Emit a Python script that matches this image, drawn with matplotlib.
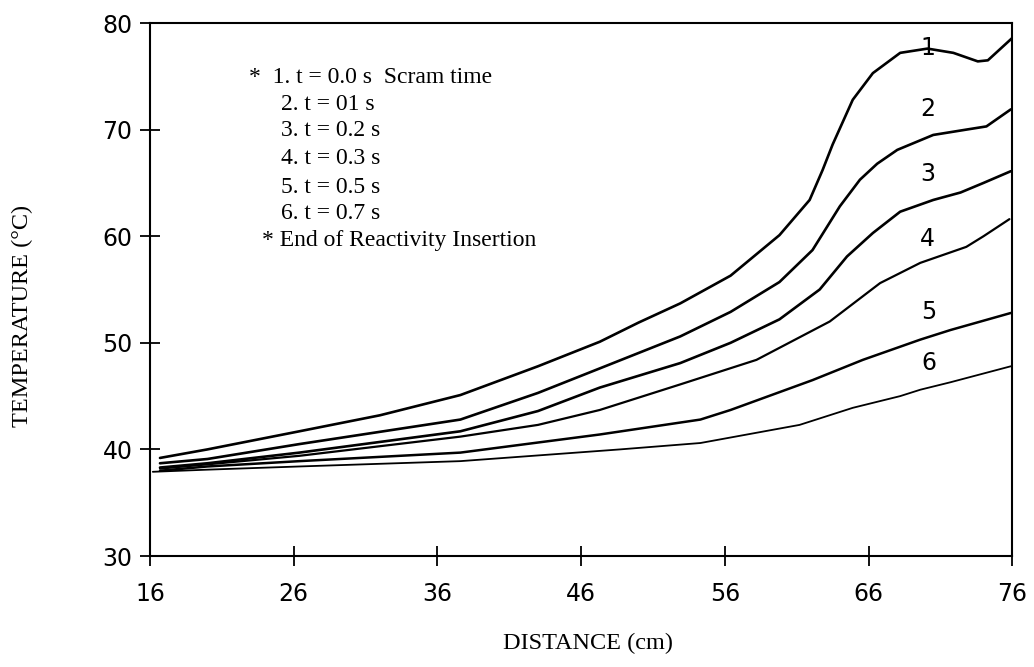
import numpy as np
import matplotlib
matplotlib.use("Agg")
import matplotlib.pyplot as plt

# ---- data (distance cm, temperature C) ----
x1 = [16.7, 20, 26.4, 32, 37.6, 43, 47.3, 50, 52.9, 56.4, 59.8, 61.9, 62.8, 63.5,
      64.9, 66.3, 68.2, 70.1, 71.9, 73.6, 74.3, 76]
t1 = [39.2, 40.0, 41.7, 43.2, 45.1, 47.8, 50.1, 51.9, 53.7, 56.3, 60.1, 63.4, 66.2, 68.6,
      72.8, 75.3, 77.2, 77.6, 77.2, 76.4, 76.5, 78.6]

x2 = [16.7, 20, 26.4, 37.6, 43, 47.3, 52.9, 56.4, 59.8, 62.1, 64.0, 65.4, 66.6, 68.0,
      70.5, 72.8, 74.2, 75.9]
t2 = [38.7, 39.1, 40.5, 42.8, 45.3, 47.6, 50.6, 52.9, 55.7, 58.7, 62.8, 65.3, 66.8, 68.1,
      69.5, 70.0, 70.3, 71.9]

x3 = [16.7, 20, 26.4, 37.6, 43, 47.3, 52.9, 56.4, 59.8, 62.6, 64.5, 66.3, 68.2, 70.5,
      72.4, 74.0, 75.9]
t3 = [38.3, 38.7, 39.7, 41.7, 43.6, 45.8, 48.1, 50.0, 52.2, 55.0, 58.1, 60.3, 62.3, 63.4,
      64.1, 65.0, 66.1]

x4 = [16.7, 20, 26.4, 37.6, 43, 47.3, 52.9, 58.2, 63.3, 66.8, 69.6, 72.8, 74.0, 75.8]
t4 = [38.2, 38.6, 39.4, 41.2, 42.3, 43.7, 46.1, 48.4, 52.0, 55.6, 57.5, 59.0, 60.0, 61.6]

x5 = [16.7, 20, 26.4, 37.6, 47.3, 54.3, 56.4, 62.1, 65.6, 69.6, 71.7, 75.9]
t5 = [38.0, 38.4, 38.9, 39.7, 41.4, 42.8, 43.7, 46.5, 48.4, 50.3, 51.2, 52.8]

x6 = [16.2, 20, 26.4, 37.6, 48.7, 54.3, 61.2, 64.9, 68.2, 69.6, 71.7, 75.9]
t6 = [37.9, 38.1, 38.4, 38.9, 40.0, 40.6, 42.3, 43.9, 45.0, 45.6, 46.3, 47.8]

curve_tags = ["1", "2", "3", "4", "5", "6"]
tag_x = [70.1, 70.1, 70.1, 70.1, 70.2, 70.2]
tag_y = [77.7, 71.9, 65.8, 59.7, 52.9, 48.1]

note_lines = ["*  1. t = 0.0 s  Scram time", "2. t = 01 s", "3. t = 0.2 s", "4. t = 0.3 s",
              "5. t = 0.5 s", "6. t = 0.7 s", "* End of Reactivity Insertion"]
note_x = [22.9, 25.1, 25.1, 25.1, 25.1, 25.1, 23.8]
note_y = [74.9, 72.4, 69.9, 67.3, 64.6, 62.1, 59.6]

xticks = [16, 26, 36, 46, 56, 66, 76]
yticks = [30, 40, 50, 60, 70, 80]

# ---- figure ----
fig = plt.figure(figsize=(10.34, 6.67), dpi=100)
ax = fig.add_axes([0.145, 0.1664, 0.834, 0.7991])

series = [(x1, t1), (x2, t2), (x3, t3), (x4, t4), (x5, t5), (x6, t6)]
widths = [1.9, 1.9, 1.9, 1.6, 1.8, 1.3]
for (xs, ts), lw in zip(series, widths):
    ax.plot(xs, ts, color="black", lw=lw, solid_capstyle="round", solid_joinstyle="round")

for tag, tx, ty in zip(curve_tags, tag_x, tag_y):
    ax.text(tx, ty, tag, fontsize=17, family="DejaVu Sans", ha="center", va="center")

for line, nx, ny in zip(note_lines, note_x, note_y):
    ax.text(nx, ny, line, fontsize=17, family="Liberation Serif", ha="left", va="center")

ax.set_xlim(16, 76)
ax.set_ylim(30, 80)
ax.set_xticks(xticks)
ax.set_yticks(yticks)
ax.tick_params(direction="inout", length=15, width=1.3, labelsize=17)
ax.tick_params(axis="x", pad=11)
ax.tick_params(axis="y", pad=5)
for s in ax.spines.values():
    s.set_linewidth(1.5)

ax.set_xlabel("DISTANCE (cm)", fontsize=17.5, family="Liberation Serif")
ax.xaxis.set_label_coords(0.508, -0.145)
ax.set_ylabel("TEMPERATURE (°C)", fontsize=17.5, family="Liberation Serif")
ax.yaxis.set_label_coords(-0.135, 0.45)

fig.savefig("out.png", dpi=100)
